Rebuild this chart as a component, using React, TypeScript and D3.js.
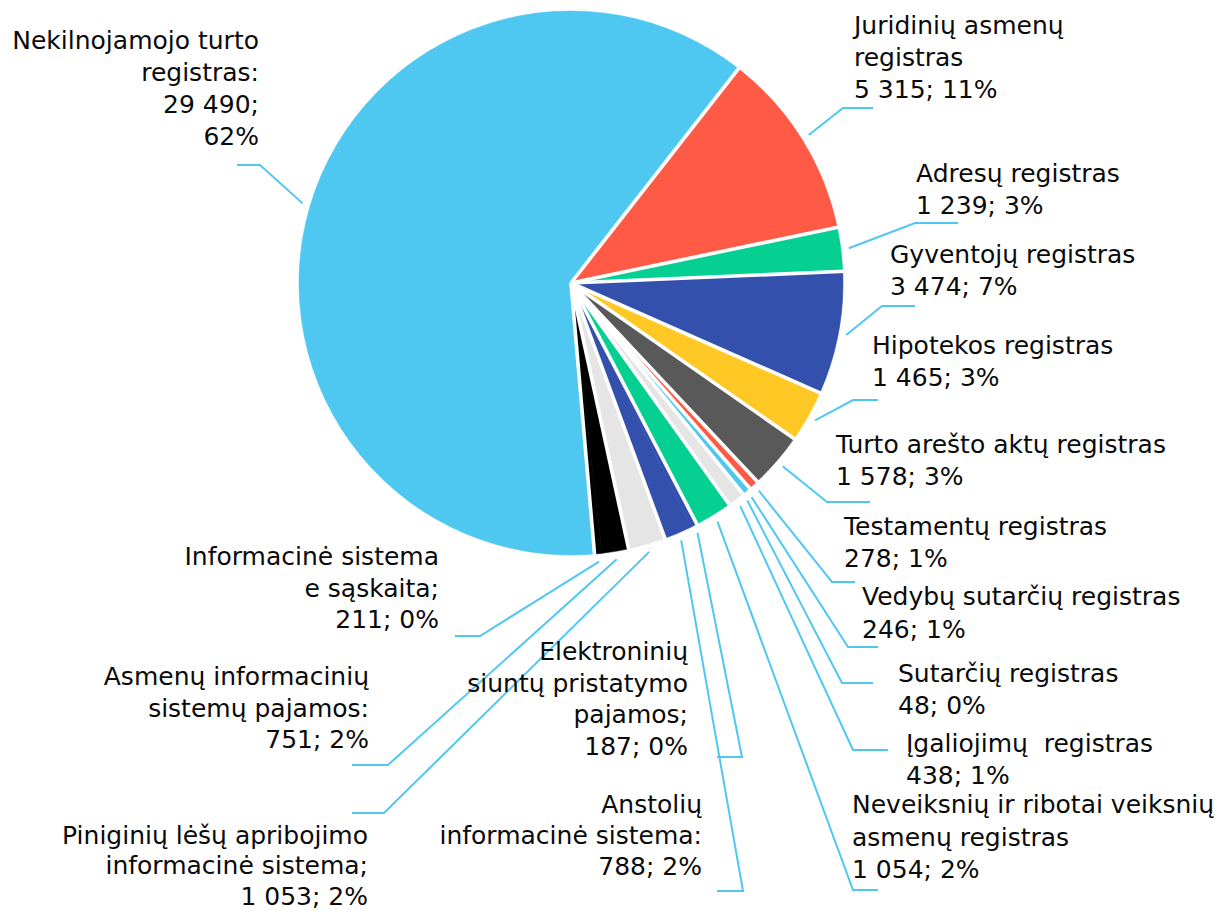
import React from "react";
import * as d3 from "d3";

const categories = [
  "Nekilnojamojo turto registras",
  "Juridinių asmenų registras",
  "Adresų registras",
  "Gyventojų registras",
  "Hipotekos registras",
  "Turto arešto aktų registras",
  "Testamentų registras",
  "Vedybų sutarčių registras",
  "Sutarčių registras",
  "Įgaliojimų registras",
  "Neveiksnių ir ribotai veiksnių asmenų registras",
  "Elektroninių siuntų pristatymo pajamos",
  "Anstolių informacinė sistema",
  "Piniginių lėšų apribojimo informacinė sistema",
  "Asmenų informacinių sistemų pajamos",
  "Informacinė sistema e sąskaita",
];

const values = [29490, 5315, 1239, 3474, 1465, 1578, 278, 246, 48, 438, 1054, 187, 788, 1053, 751, 211];

const labelLines = [
  ["Nekilnojamojo turto", "registras:", "29 490;", "62%"],
  ["Juridinių asmenų", "registras", "5 315; 11%"],
  ["Adresų registras", "1 239; 3%"],
  ["Gyventojų registras", "3 474; 7%"],
  ["Hipotekos registras", "1 465; 3%"],
  ["Turto arešto aktų registras", "1 578; 3%"],
  ["Testamentų registras", "278; 1%"],
  ["Vedybų sutarčių registras", "246; 1%"],
  ["Sutarčių registras", "48; 0%"],
  ["Įgaliojimų  registras", "438; 1%"],
  ["Neveiksnių ir ribotai veiksnių", "asmenų registras", "1 054; 2%"],
  ["Elektroninių", "siuntų pristatymo", "pajamos;", "187; 0%"],
  ["Anstolių", "informacinė sistema:", "788; 2%"],
  ["Piniginių lėšų apribojimo", "informacinė sistema;", "1 053; 2%"],
  ["Asmenų informacinių", "sistemų pajamos:", "751; 2%"],
  ["Informacinė sistema", "e sąskaita;", "211; 0%"],
];

const colors = [
  "#4fc8f1", "#fe5a46", "#05d091", "#3450ad", "#ffc824", "#595959",
  "#fe5a46", "#4fc8f1", "#e5e5e5", "#e5e5e5", "#05d091", "#3450ad",
  "#3450ad", "#e5e5e5", "#000000", "#000000",
];

// label layout: anchor, x, first baseline, line step, elbow, end of leader
const labelLayout = [
  { anchor: "end", x: 259, y: 49, step: 32, elbow: [260, 165], end: [237, 165] },
  { anchor: "start", x: 854, y: 34, step: 32, elbow: [843, 108], end: [873, 108] },
  { anchor: "start", x: 916, y: 182, step: 31.5, elbow: [915, 223], end: [958, 223] },
  { anchor: "start", x: 890, y: 263, step: 32, elbow: [882, 306], end: [915, 306] },
  { anchor: "start", x: 872, y: 354, step: 31.5, elbow: [853, 400], end: [878, 400] },
  { anchor: "start", x: 836, y: 453, step: 31.5, elbow: [827, 502], end: [870, 502] },
  { anchor: "start", x: 844, y: 535, step: 32, elbow: [832, 582], end: [855, 582] },
  { anchor: "start", x: 862, y: 605, step: 32.5, elbow: [848, 647], end: [878, 647] },
  { anchor: "start", x: 898, y: 682, step: 31.5, elbow: [842, 683], end: [873, 683] },
  { anchor: "start", x: 906, y: 752, step: 31.5, elbow: [853, 750], end: [888, 750] },
  { anchor: "start", x: 852, y: 813, step: 32.5, elbow: [853, 890], end: [878, 890] },
  { anchor: "end", x: 688, y: 660, step: 31.7, elbow: [742, 757], end: [717, 757] },
  { anchor: "end", x: 702, y: 813, step: 31, elbow: [743, 891], end: [717, 891] },
  { anchor: "end", x: 368, y: 844, step: 30.3, elbow: [384, 813], end: [352, 813] },
  { anchor: "end", x: 369, y: 685, step: 31.5, elbow: [388, 765], end: [352, 765] },
  { anchor: "end", x: 439, y: 565, step: 31.5, elbow: [480, 636], end: [455, 636] },
];

const W = 1216;
const H = 911;
const CX = 571;
const CY = 283;
const R = 272;
const START_DEG = 175.04;

export default function App() {
  const data = categories.map((c, i) => ({ c, v: values[i], i }));
  const start = (START_DEG * Math.PI) / 180;
  const pie = d3
    .pie<any>()
    .sort(null)
    .value((d: any) => d.v)
    .startAngle(start)
    .endAngle(start + 2 * Math.PI);
  const arcs = pie(data);
  const arc = d3.arc<any>().innerRadius(0).outerRadius(R);
  const leaderArc = d3.arc<any>().innerRadius(280).outerRadius(280);

  // white separators only where colour changes
  const seps = arcs
    .map((a, i) => {
      const prev = (i - 1 + arcs.length) % arcs.length;
      return colors[i] !== colors[prev] ? a.startAngle : null;
    })
    .filter((v) => v !== null) as number[];

  return (
    <svg
      width={W}
      height={H}
      viewBox={`0 0 ${W} ${H}`}
      style={{ position: "absolute", left: 0, top: 0, background: "#fff" }}
    >
      <g transform={`translate(${CX},${CY})`}>
        {arcs.map((a, i) => (
          <path
            key={i}
            d={arc(a) || ""}
            fill={colors[i]}
            stroke={colors[i]}
            strokeWidth={0.6}
          />
        ))}
        {seps.map((ang, k) => (
          <line
            key={"s" + k}
            x1={0}
            y1={0}
            x2={Math.sin(ang) * (R + 2)}
            y2={-Math.cos(ang) * (R + 2)}
            stroke="#ffffff"
            strokeWidth={3.6}
          />
        ))}
      </g>
      {arcs.map((a, i) => {
        const [sx, sy] = leaderArc.centroid(a);
        const L = labelLayout[i];
        const pts = [[sx + CX, sy + CY], L.elbow, L.end];
        return (
          <polyline
            key={"l" + i}
            points={pts.map((p) => p.join(",")).join(" ")}
            fill="none"
            stroke="#4fc8f1"
            strokeWidth={2}
          />
        );
      })}
      {labelLines.map((lines, i) => {
        const L = labelLayout[i];
        return (
          <text
            key={"t" + i}
            textAnchor={L.anchor as any}
            fontFamily="'DejaVu Sans', sans-serif"
            fontSize={25}
            fill="#0a0a0a"
            style={{ whiteSpace: "pre" }}
          >
            {lines.map((ln, j) => (
              <tspan key={j} x={L.x} y={L.y + j * L.step}>
                {ln}
              </tspan>
            ))}
          </text>
        );
      })}
    </svg>
  );
}
